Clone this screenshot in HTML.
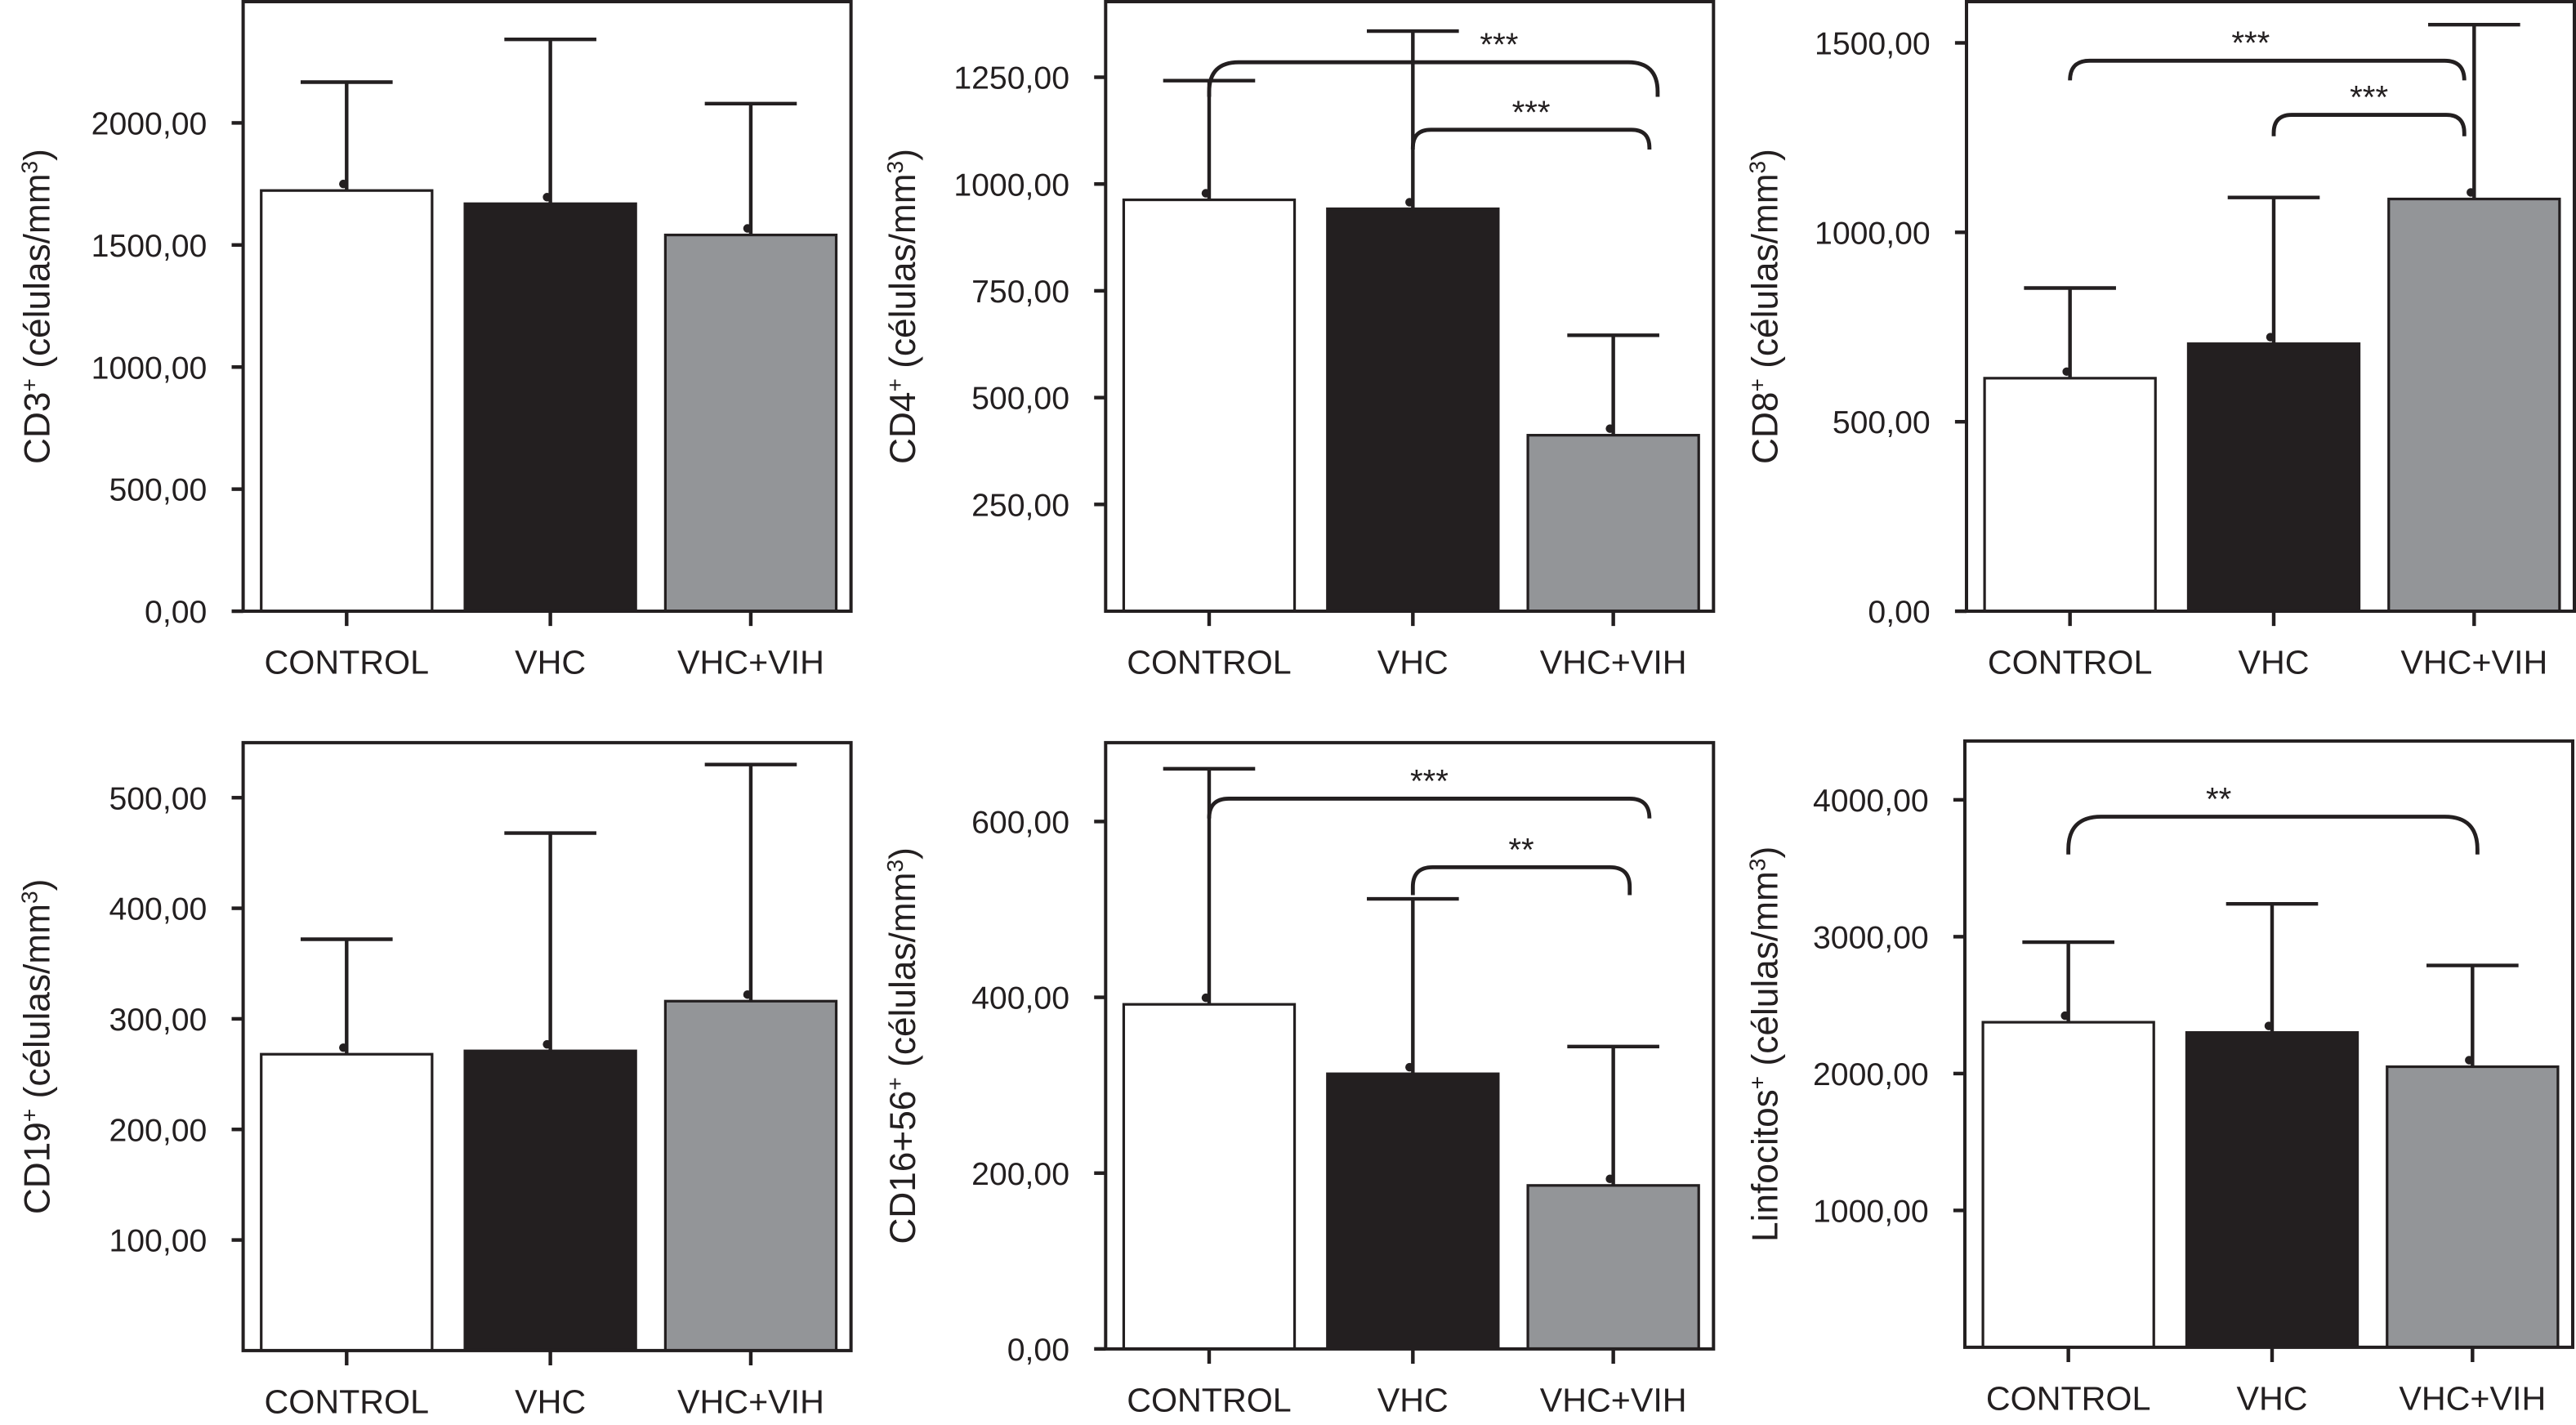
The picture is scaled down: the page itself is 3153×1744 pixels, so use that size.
<!DOCTYPE html>
<html><head><meta charset="utf-8"><style>
html,body{margin:0;padding:0;background:#fff;}
svg{display:block;font-family:"Liberation Sans",Arial,sans-serif;}
</style></head><body>
<svg id="fig" width="3153" height="1744" viewBox="0 0 1568 867.3" preserveAspectRatio="none" xmlns="http://www.w3.org/2000/svg"></svg>
<script>
const categories = ["CONTROL","VHC","VHC+VIH"];
const cd3Means = [1723,1669,1541];
const cd3Errs = [2167,2342,2079];
const cd3Ticks = [0,500,1000,1500,2000];
const cd4Means = [963,942,412];
const cd4Errs = [1242,1358,646];
const cd4Ticks = [250,500,750,1000,1250];
const cd8Means = [615,706,1088];
const cd8Errs = [853,1092,1548];
const cd8Ticks = [0,500,1000,1500];
const cd19Means = [268,271,316];
const cd19Errs = [372,468,530];
const cd19Ticks = [100,200,300,400,500];
const cd16Means = [392,313,186];
const cd16Errs = [660,512,344];
const cd16Ticks = [0,200,400,600];
const linfMeans = [2375,2300,2050];
const linfErrs = [2960,3240,2790];
const linfTicks = [1000,2000,3000,4000];
const cd4Brackets = [[0,2,1285,"***"],[1,2,1127,"***"]];
const cd8Brackets = [[0,2,1453,"***"],[1,2,1310,"***"]];
const cd16Brackets = [[0,2,626,"***"],[1,2,548,"**"]];
const linfBrackets = [[0,2,3877,"**"]];

// styling for brackets (not data): [rightEndShift, legDepth, radius, starShift]
const cd4BrStyle = [[27,21,18,40],[22,12,11,0]];
const cd8BrStyle = [[-6,12,12,-10],[-6,13,11,0]];
const cd16BrStyle = [[22,12,12,0],[10,17,12,0]];
const linfBrStyle = [[3,23,20,-33]];

const NS="http://www.w3.org/2000/svg";
const svg=document.getElementById('fig');
function mk(tag,attrs,parent,text){const e=document.createElementNS(NS,tag);for(const k in attrs)e.setAttribute(k,attrs[k]);if(text!==undefined)e.textContent=text;(parent||svg).appendChild(e);return e;}
const fills=["#ffffff","#231f20","#939598"];
function fmt(v){return v.toFixed(2).replace('.',',');}

function panel(id,title,L,T,B,perPx,means,errs,ticks,brackets,brStyle,titleX){
  const W=370;
  const g=mk('g',{});
  
  
  const y=v=>B-v*perPx;
  const cx=i=>L+[63,187,309][i];
  means.forEach((m,i)=>{
    const r=mk('rect',{x:cx(i)-52,y:y(m),width:104,height:B-y(m),fill:fills[i],stroke:'#231f20','stroke-width':1.6},g);
    
    
    const e=mk('path',{d:`M${cx(i)},${y(m)} V${y(errs[i])} M${cx(i)-28},${y(errs[i])} H${cx(i)+28}`,stroke:'#231f20','stroke-width':2.2,fill:'none'},g);
    
    
    const d=mk('circle',{cx:cx(i)-2,cy:y(m)-4,r:2.6,fill:'#231f20'},g);
    
    
  });
  const box=mk('rect',{x:L,y:T,width:W,height:B-T,fill:'none',stroke:'#231f20','stroke-width':2},g);
  
  
  ticks.forEach(t=>{
    mk('line',{x1:L-7,x2:L,y1:y(t),y2:y(t),stroke:'#231f20','stroke-width':2.2},g);
    const tl=mk('text',{x:L-22,y:y(t)+7,'text-anchor':'end','font-size':19.5,fill:'#231f20'},g,fmt(t));
    
    
  });
  categories.forEach((c,i)=>{
    mk('line',{x1:cx(i),x2:cx(i),y1:B,y2:B+9,stroke:'#231f20','stroke-width':2.2},g);
    const xl=mk('text',{x:cx(i),y:B+38,'text-anchor':'middle','font-size':20.5,fill:'#231f20'},g,c);
    
    
  });
  brackets.forEach((b,k)=>{
    const st=brStyle[k];
    const x1=cx(b[0]),x2=cx(b[1])+st[0],yt=y(b[2]),r=st[2],yl=yt+st[1];
    const p=mk('path',{d:`M${x1},${yl} V${yt+r} Q${x1},${yt} ${x1+r},${yt} H${x2-r} Q${x2},${yt} ${x2},${yt+r} V${yl}`,fill:'none',stroke:'#231f20','stroke-width':2.4},g);
    
    
    const s=mk('text',{x:(x1+x2)/2+st[3],y:yt-4,'text-anchor':'middle','font-size':20,fill:'#231f20'},g,b[3]);
    
    
  });
  const cy=(T+B)/2;
  const t=mk('text',{x:titleX,y:cy,'text-anchor':'middle','font-size':22,fill:'#231f20',transform:`rotate(-90 ${titleX} ${cy})`},g);
  
  
  mk('tspan',{},t,title);
  mk('tspan',{'baseline-shift':'super','font-size':14},t,'+');
  mk('tspan',{},t,' (células/mm');
  mk('tspan',{'baseline-shift':'super','font-size':14},t,'3');
  mk('tspan',{},t,')');
}
panel('cd3','CD3',148,1,372,74.3/500,cd3Means,cd3Errs,cd3Ticks,[],[],30);
panel('cd4','CD4',673,1,372,65/250,cd4Means,cd4Errs,cd4Ticks,cd4Brackets,cd4BrStyle,557);
panel('cd8','CD8',1197,1,372,115.3/500,cd8Means,cd8Errs,cd8Ticks,cd8Brackets,cd8BrStyle,1082);
panel('cd19','CD19',148,452,822,67.3/100,cd19Means,cd19Errs,cd19Ticks,[],[],30);
panel('cd16','CD16+56',673,452,821,107/200,cd16Means,cd16Errs,cd16Ticks,cd16Brackets,cd16BrStyle,557);
panel('linf','Linfocitos',1196,451,820,83.3/1000,linfMeans,linfErrs,linfTicks,linfBrackets,linfBrStyle,1082);
</script>
</body></html>
